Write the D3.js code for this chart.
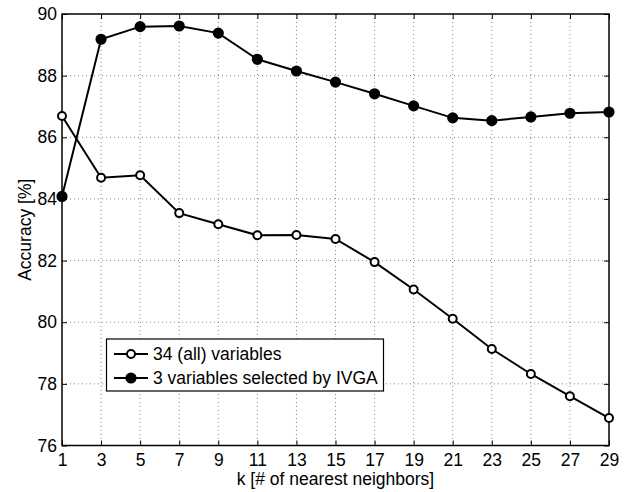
<!DOCTYPE html>
<html>
<head>
<meta charset="utf-8">
<script src="https://cdn.jsdelivr.net/npm/d3@7"></script>
<style>
html,body{margin:0;padding:0;background:#fff;}
svg{display:block;}
text{font-family:"Liberation Sans",Arial,Helvetica,sans-serif;fill:#000;}
</style>
</head>
<body>
<svg id="chart" width="639" height="492"></svg>
<script>
const kValues = [1,3,5,7,9,11,13,15,17,19,21,23,25,27,29];
const allVars = [86.69,84.69,84.77,83.54,83.18,82.82,82.83,82.70,81.95,81.06,80.11,79.13,78.32,77.60,76.89];
const ivgaVars = [84.08,89.18,89.59,89.61,89.38,88.53,88.15,87.79,87.41,87.02,86.63,86.54,86.66,86.78,86.82];
const yTicks = [76,78,80,82,84,86,88,90];
const seriesNames = ["34 (all) variables","3 variables selected by IVGA"];
const xLabel = "k [# of nearest neighbors]";
const yLabel = "Accuracy [%]";

const svg = d3.select("#chart");
const L = 62, R = 609, T = 14, B = 445.5;
const x = d3.scaleLinear().domain([1,29]).range([L,R]);
const y = d3.scaleLinear().domain([76,90]).range([B,T]);
const fs = 17.5;

// grid
const grid = svg.append("g");
grid.selectAll("line.vx").data(kValues.slice(1,-1)).enter().append("line")
  .attr("x1",d=>x(d)).attr("x2",d=>x(d)).attr("y1",T).attr("y2",B)
  .attr("stroke","#888").attr("stroke-width",1).attr("stroke-dasharray","1,3");
grid.selectAll("line.hy").data(yTicks.slice(1,-1)).enter().append("line")
  .attr("y1",d=>y(d)).attr("y2",d=>y(d)).attr("x1",L).attr("x2",R)
  .attr("stroke","#888").attr("stroke-width",1).attr("stroke-dasharray","1,3");

// axes with inward ticks
const tk = 5;
const xAxisB = d3.axisBottom(x).tickValues(kValues).tickSize(-tk).tickPadding(8).tickFormat(d3.format("d"));
const xAxisT = d3.axisTop(x).tickValues(kValues).tickSize(-tk).tickFormat("");
const yAxisL = d3.axisLeft(y).tickValues(yTicks).tickSize(-tk).tickPadding(5).tickFormat(d3.format("d"));
const yAxisR = d3.axisRight(y).tickValues(yTicks).tickSize(-tk).tickFormat("");
function style(g){
  g.select(".domain").remove();
  g.selectAll(".tick line").attr("stroke","#000").attr("stroke-width",1);
  g.selectAll("text").style("font-size",fs+"px").attr("fill","#000");
}
svg.append("g").attr("transform",`translate(0,${B})`).call(xAxisB).call(style);
svg.append("g").attr("transform",`translate(0,${T})`).call(xAxisT).call(style);
svg.append("g").attr("transform",`translate(${L},0)`).call(yAxisL).call(style);
svg.append("g").attr("transform",`translate(${R},0)`).call(yAxisR).call(style);

svg.append("rect").attr("x",L).attr("y",T).attr("width",R-L).attr("height",B-T)
  .attr("fill","none").attr("stroke","#000").attr("stroke-width",1.5);

// lines
const line = d3.line().x((d,i)=>x(kValues[i])).y(d=>y(d));
const series = [{vals:allVars, fill:"#fff", r:4},{vals:ivgaVars, fill:"#000", r:4.6}];
series.forEach(s=>{
  svg.append("path").datum(s.vals).attr("d",line).attr("fill","none")
    .attr("stroke","#000").attr("stroke-width",2);
});
series.forEach(s=>{
  svg.append("g").selectAll("circle").data(s.vals).enter().append("circle")
    .attr("cx",(d,i)=>x(kValues[i])).attr("cy",d=>y(d)).attr("r",s.r)
    .attr("fill",s.fill).attr("stroke","#000").attr("stroke-width",2);
});

// labels
svg.append("text").attr("x",(L+R)/2).attr("y",484.5).attr("text-anchor","middle")
  .style("font-size",fs+"px").text(xLabel);
svg.append("text").attr("transform",`translate(31,${(T+B)/2}) rotate(-90)`)
  .attr("text-anchor","middle").style("font-size",fs+"px").text(yLabel);

// legend
const lg = svg.append("g");
lg.append("rect").attr("x",106.5).attr("y",339).attr("width",277).attr("height",52)
  .attr("fill","#fff").attr("stroke","#000").attr("stroke-width",1.2);
seriesNames.forEach((n,i)=>{
  const cy = 354 + i*24;
  lg.append("line").attr("x1",114).attr("x2",148).attr("y1",cy).attr("y2",cy)
    .attr("stroke","#000").attr("stroke-width",2);
  lg.append("circle").attr("cx",131).attr("cy",cy).attr("r",series[i].r)
    .attr("fill",series[i].fill).attr("stroke","#000").attr("stroke-width",2);
  lg.append("text").attr("x",153).attr("y",cy+6).style("font-size",fs+"px").text(n);
});
</script>
</body>
</html>
